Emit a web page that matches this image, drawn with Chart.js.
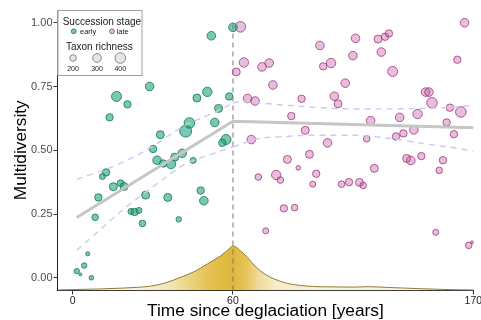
<!DOCTYPE html>
<html>
<head>
<meta charset="utf-8">
<script src="https://cdn.jsdelivr.net/npm/chart.js@4.4.1/dist/chart.umd.min.js"></script>
<style>
html, body { margin: 0; padding: 0; background: #fff; overflow: hidden; }
</style>
</head>
<body>
<canvas id="grafico" width="481" height="320"></canvas>
<script>
// ---- dados ----
var xTicks = [0, 60, 170];
var yTicks = [0, 0.25, 0.5, 0.75, 1];

// early stage
var earlyYears = [60.0, 51.9, 28.8, 16.4, 20.5, 50.4, 46.5, 58.6, 13.8, 54.6, 43.7, 42.3, 53.2, 32.8, 57.4, 56.0, 30.1, 31.6, 33.9, 36.8, 38.2, 41.0, 45.1, 12.5, 11.1, 17.9, 15.2, 19.2, 9.6, 27.3, 35.6, 47.9, 49.1, 8.4, 21.8, 23.2, 24.8, 26.1, 39.7, 5.6, 4.3, 1.5, 2.9, 7.0];
var earlyDiv = [0.982, 0.949, 0.750, 0.711, 0.680, 0.729, 0.705, 0.711, 0.629, 0.664, 0.607, 0.575, 0.609, 0.561, 0.542, 0.529, 0.505, 0.461, 0.448, 0.446, 0.473, 0.488, 0.460, 0.413, 0.397, 0.371, 0.357, 0.358, 0.315, 0.324, 0.315, 0.342, 0.302, 0.237, 0.260, 0.258, 0.264, 0.213, 0.229, 0.094, 0.048, 0.026, 0.013, 0.000];
var earlyRich = [300, 300, 300, 370, 240, 340, 270, 240, 240, 270, 400, 470, 300, 270, 370, 240, 240, 300, 240, 340, 270, 300, 170, 240, 170, 200, 270, 270, 240, 270, 270, 240, 300, 200, 170, 240, 170, 200, 140, 70, 140, 140, 10, 100];

// late stage
var lateYears = [63.4, 99.8, 116.1, 126.4, 129.6, 131.4, 127.9, 114.9, 166.0, 162.7, 65.0, 61.5, 73.3, 76.6, 101.3, 104.9, 133.1, 78.3, 111.4, 106.4, 108.1, 91.4, 66.7, 70.1, 86.7, 148.2, 149.7, 151.1, 159.3, 164.3, 123.0, 136.3, 144.5, 157.8, 93.1, 68.4, 103.3, 121.2, 134.6, 138.0, 142.8, 161.1, 84.9, 89.9, 95.0, 79.8, 81.7, 71.6, 98.1, 96.5, 109.7, 113.1, 117.9, 119.6, 124.7, 139.5, 141.4, 146.2, 156.1, 154.4, 83.3, 88.2, 75.0, 152.8, 167.9, 169.4];
var lateDiv = [0.984, 0.911, 0.939, 0.936, 0.945, 0.958, 0.885, 0.871, 1.000, 0.855, 0.844, 0.807, 0.827, 0.842, 0.829, 0.842, 0.809, 0.756, 0.763, 0.712, 0.682, 0.702, 0.703, 0.693, 0.634, 0.728, 0.728, 0.686, 0.667, 0.650, 0.616, 0.629, 0.642, 0.609, 0.578, 0.542, 0.529, 0.545, 0.554, 0.566, 0.580, 0.563, 0.464, 0.431, 0.484, 0.403, 0.383, 0.395, 0.408, 0.367, 0.367, 0.375, 0.374, 0.362, 0.429, 0.468, 0.460, 0.477, 0.461, 0.421, 0.272, 0.275, 0.184, 0.178, 0.127, 0.139];
var lateRich = [400, 300, 300, 270, 240, 240, 300, 300, 300, 240, 340, 270, 300, 300, 240, 340, 370, 300, 300, 300, 270, 240, 300, 300, 240, 300, 300, 400, 240, 400, 300, 300, 340, 240, 270, 300, 300, 200, 240, 240, 300, 240, 270, 100, 270, 340, 200, 200, 240, 170, 200, 240, 270, 200, 270, 270, 300, 240, 240, 200, 240, 200, 170, 170, 200, 10];

var legendRich = [200, 300, 400];

// segmented fit
var fitYears = [1.5, 60, 170];
var fitDiv = [0.236, 0.614, 0.588];

// confidence bands
var upperEarlyYears = [1.5, 14.8, 24.2, 31, 41.7, 53, 60];
var upperEarlyDiv = [0.386, 0.435, 0.481, 0.523, 0.595, 0.648, 0.685];
var upperLateYears = [60, 62.7, 85, 115, 146, 168, 170];
var upperLateDiv = [0.685, 0.690, 0.676, 0.662, 0.664, 0.674, 0.676];
var lowerEarlyYears = [1.5, 10.4, 19.2, 27.3, 35.6, 41.6, 52.9, 60];
var lowerEarlyDiv = [0.108, 0.19, 0.27, 0.335, 0.40, 0.443, 0.488, 0.513];
var lowerLateYears = [60, 71.9, 84.9, 93.3, 114.7, 132.2, 152, 161, 170];
var lowerLateDiv = [0.513, 0.546, 0.554, 0.559, 0.559, 0.546, 0.52, 0.51, 0.496];

// sampling density (drawn in y units at the bottom)
var densYears = [-5.7, 1.5, 10, 19, 25, 29.1, 34.1, 37.8, 41.6, 45.4, 50.4, 55.4, 58, 60, 63.5, 66.6, 69.6, 72.7, 77.3, 84.9, 92.5, 100.2, 108, 115.4, 122, 130.7, 146, 161.3, 170];
var densDiv = [-0.048, -0.046, -0.044, -0.0405, -0.037, -0.033, -0.022, -0.009, 0.0065, 0.0235, 0.054, 0.086, 0.108, 0.125, 0.105, 0.080, 0.050, 0.026, 0.0014, -0.022, -0.0315, -0.0354, -0.036, -0.0366, -0.035, -0.038, -0.043, -0.047, -0.048];

var deglaciationBreak = 60;

// ---- helpers ----
function sizeFor(rich) {
	return 1.3 + rich / 100;
}

function pares(xs, ys) {
	return xs.map(function(x, i) { return { x: x, y: ys[i] }; });
}

function bolhas(xs, ys, rs) {
	return xs.map(function(x, i) { return { x: x, y: ys[i], r: sizeFor(rs[i]) }; });
}

// x axis is stretched: 0-60 takes 40% of the 0-170 span
var warpYears = [0, 60, 170];
var warpShare = [0, 0.4, 1];

class WarpScale extends Chart.LinearScale {
	warp(v) {
		var b = warpYears, w = warpShare;
		if (v <= b[1]) return w[0] + (v - b[0]) * (w[1] - w[0]) / (b[1] - b[0]);
		return w[1] + (v - b[1]) * (w[2] - w[1]) / (b[2] - b[1]);
	}
	unwarp(u) {
		var b = warpYears, w = warpShare;
		if (u <= w[1]) return b[0] + (u - w[0]) * (b[1] - b[0]) / (w[1] - w[0]);
		return b[1] + (u - w[1]) * (b[2] - b[1]) / (w[2] - w[1]);
	}
	getPixelForValue(value) {
		if (value === null || isNaN(value)) return NaN;
		var lo = this.warp(this.min), hi = this.warp(this.max);
		return this.getPixelForDecimal((this.warp(value) - lo) / (hi - lo));
	}
	getValueForPixel(pixel) {
		var lo = this.warp(this.min), hi = this.warp(this.max);
		return this.unwarp(lo + this.getDecimalForPixel(pixel) * (hi - lo));
	}
}
WarpScale.id = 'warp';
WarpScale.defaults = Chart.LinearScale.defaults;
Chart.register(WarpScale);

var fonte = '"Liberation Sans", Arial, sans-serif';
Chart.defaults.font.family = fonte;

var earlyFill = 'rgba(27,158,119,0.58)';
var earlyLine = 'rgba(20,125,92,0.85)';
var lateFill = 'rgba(185,75,150,0.36)';
var lateLine = 'rgba(155,45,120,0.75)';

function gradienteDensidade(context) {
	var chart = context.chart;
	var area = chart.chartArea;
	if (!area) return 'rgba(0,0,0,0)';
	var sx = chart.scales.x;
	var g = chart.ctx.createLinearGradient(area.left, 0, area.right, 0);
	var stops = [[-5.7, '#fbf8ee'], [25, '#f9f2dc'], [37, '#f3e4b2'], [45, '#ebd078'], [52, '#e3c04c'], [60, '#dfb73d'], [66, '#e5c459'], [72, '#efdb9c'], [80, '#f6ecc8'], [100, '#f8f1da'], [170, '#f8f3e2']];
	stops.forEach(function(s) {
		var p = (sx.getPixelForValue(s[0]) - area.left) / (area.right - area.left);
		g.addColorStop(Math.min(1, Math.max(0, p)), s[1]);
	});
	return g;
}

// legend box drawn inside the panel
var legendaPlugin = {
	id: 'legenda',
	afterDraw: function(chart) {
		var c = chart.ctx;
		var left = chart.chartArea.left;
		c.save();
		c.fillStyle = '#ffffff';
		c.fillRect(left, 10, 84, 65);
		c.strokeStyle = '#a0a0a0';
		c.lineWidth = 1;
		c.strokeRect(left + 0.5, 10.5, 84, 65);

		c.fillStyle = '#1a1a1a';
		c.textBaseline = 'alphabetic';
		c.textAlign = 'left';
		c.font = '10px ' + fonte;
		c.fillText('Succession stage', left + 5.2, 24.5);
		c.fillText('Taxon richness', left + 8.5, 49.5);

		c.font = '7.5px ' + fonte;
		c.fillText('early', left + 22.5, 33.8);
		c.fillText('late', left + 59.2, 33.8);

		c.lineWidth = 1;
		c.beginPath(); c.arc(left + 16.2, 31.3, 2.4, 0, Math.PI * 2);
		c.fillStyle = earlyFill; c.fill(); c.strokeStyle = earlyLine; c.stroke();
		c.beginPath(); c.arc(left + 54.5, 31.3, 2.4, 0, Math.PI * 2);
		c.fillStyle = lateFill; c.fill(); c.strokeStyle = lateLine; c.stroke();

		var cx = [left + 15.5, left + 39.5, left + 62.8];
		c.textAlign = 'center';
		c.font = '7px ' + fonte;
		legendRich.forEach(function(v, i) {
			c.beginPath(); c.arc(cx[i], 58, sizeFor(v), 0, Math.PI * 2);
			c.fillStyle = 'rgba(200,200,200,0.45)'; c.fill();
			c.strokeStyle = '#8c8c8c'; c.stroke();
			c.fillStyle = '#1a1a1a';
			c.fillText(String(v), cx[i], 70.7);
		});
		c.restore();
	}
};

function linha(data, cor, largura, dash, ordem, suave) {
	return {
		type: 'line',
		data: data,
		borderColor: cor,
		borderWidth: largura,
		borderDash: dash,
		pointRadius: 0,
		fill: false,
		cubicInterpolationMode: suave ? 'monotone' : 'default',
		tension: 0,
		order: ordem,
		clip: false
	};
}

var grafico = new Chart(document.getElementById('grafico'), {
	type: 'bubble',
	data: {
		datasets: [
			{
				type: 'line',
				label: 'density',
				data: pares(densYears, densDiv),
				borderColor: '#8f7c36',
				borderWidth: 1,
				backgroundColor: gradienteDensidade,
				fill: 'start',
				pointRadius: 0,
				cubicInterpolationMode: 'monotone',
				order: 6
			},
			{
				label: 'early',
				data: bolhas(earlyYears, earlyDiv, earlyRich),
				backgroundColor: earlyFill,
				borderColor: earlyLine,
				borderWidth: 1,
				order: 4,
				clip: false
			},
			{
				label: 'late',
				data: bolhas(lateYears, lateDiv, lateRich),
				backgroundColor: lateFill,
				borderColor: lateLine,
				borderWidth: 1,
				order: 4,
				clip: false
			},
			linha([{ x: deglaciationBreak, y: -0.05 }, { x: deglaciationBreak, y: 1.0 }], '#7a7a7a', 1, [5, 4], 3, false),
			linha(pares(upperEarlyYears, upperEarlyDiv), '#c9c9f4', 1.4, [6, 5], 2, true),
			linha(pares(upperLateYears, upperLateDiv), '#c9c9f4', 1.4, [6, 5], 2, true),
			linha(pares(lowerEarlyYears, lowerEarlyDiv), '#c9c9f4', 1.4, [6, 5], 2, true),
			linha(pares(lowerLateYears, lowerLateDiv), '#c9c9f4', 1.4, [6, 5], 2, true),
			linha(pares(fitYears, fitDiv), '#c6c6c6', 3, [], 1, false)
		]
	},
	options: {
		responsive: false,
		animation: false,
		devicePixelRatio: 1,
		layout: { padding: { top: 10, right: 7.7, left: 0, bottom: 0 } },
		plugins: {
			legend: { display: false },
			tooltip: { enabled: false }
		},
		scales: {
			x: {
				type: 'warp',
				min: -5.7,
				max: 170,
				afterBuildTicks: function(s) { s.ticks = xTicks.map(function(v) { return { value: v }; }); },
				afterFit: function(s) { s.height = 29.5; s.paddingRight = 0; s.paddingLeft = 0; },
				grid: { drawOnChartArea: false, tickLength: 4, tickColor: '#333' },
				border: { display: true, color: '#222', width: 1 },
				ticks: {
					autoSkip: false, maxRotation: 0, padding: 0,
					color: '#222', font: { size: 10.5 },
					callback: function(v) { return String(v); }
				},
				title: {
					display: true,
					text: 'Time since deglaciation [years]',
					color: '#000',
					font: { size: 17.3 },
					padding: { top: 0, bottom: -2 }
				}
			},
			y: {
				type: 'linear',
				min: -0.05,
				max: 1.05,
				afterBuildTicks: function(s) { s.ticks = yTicks.map(function(v) { return { value: v }; }); },
				afterFit: function(s) { s.width = 57.5; },
				grid: { drawOnChartArea: false, tickLength: 4, tickColor: '#333' },
				border: { display: true, color: '#222', width: 1 },
				ticks: {
					padding: 1,
					color: '#4d4d4d', font: { size: 11 },
					callback: function(v) { return v.toFixed(2); }
				},
				title: {
					display: true,
					text: 'Multidiversity',
					color: '#000',
					font: { size: 17.3 },
					padding: { top: 11, bottom: 0 }
				}
			}
		}
	},
	plugins: [legendaPlugin]
});
</script>
</body>
</html>
